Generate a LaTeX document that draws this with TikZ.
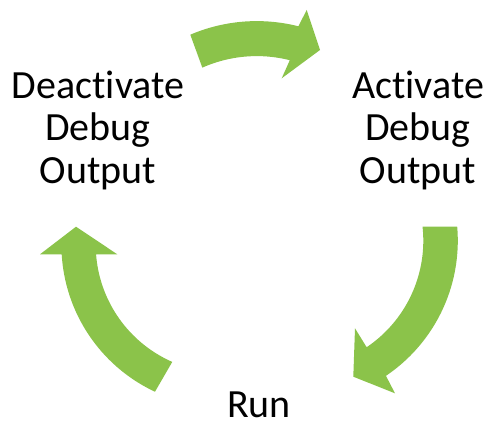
\documentclass[tikz,border=0pt]{standalone}
\usepackage{fontspec}
\setmainfont{Carlito}[Ligatures=NoCommon]
\definecolor{cyclegreen}{RGB}{139,195,74}
\begin{document}
\begin{tikzpicture}[x=1pt,y=-1pt,
  arrowfill/.style={fill=cyclegreen},
  label/.style={align=center,inner sep=0pt,font=\fontsize{40}{42.5}\selectfont,text=black}]
\useasboundingbox (0,0) rectangle (487,422);
% text nodes
\node[label] (deact) at (98,130) {Deactivate\\Debug\\Output};
\node[label] (act) at (418,130) {Activate\\Debug\\Output};
\node[label,anchor=base] (run) at (259,417) {Run};
% top arrow (centre 256.8,190.6)
\fill[arrowfill] plot[domain=-113.1:-75.8,samples=40] ({256.8+169.5*cos(\x)},{190.6+169.5*sin(\x)})
  -- (306.7,10) -- (320,50) -- (281.7,78.3)
  -- plot[domain=-75.8:-113.9,samples=40] ({256.8+134.5*cos(\x)},{190.6+134.5*sin(\x)}) -- cycle;
% right arrow (centre 294.8,240.7)
\fill[arrowfill] plot[domain=-4.93:56,samples=50] ({294.8+163*cos(\x)},{240.7+163*sin(\x)})
  -- (395,393.3) -- (353.3,376.7) -- (355,328.3)
  -- plot[domain=56:-6.25,samples=50] ({294.8+128.5*cos(\x)},{240.7+128.5*sin(\x)}) -- cycle;
% left arrow (centre 223.7,244.7)
\fill[arrowfill] (76,226.7) -- (117.3,254.3)
  -- plot[domain=175.7:113.7,samples=50] ({223.7+128*cos(\x)},{244.7+128*sin(\x)})
  -- plot[domain=115.05:176.6,samples=50] ({223.7+162.3*cos(\x)},{244.7+162.3*sin(\x)})
  -- (40,254.3) -- cycle;
\end{tikzpicture}
\end{document}
